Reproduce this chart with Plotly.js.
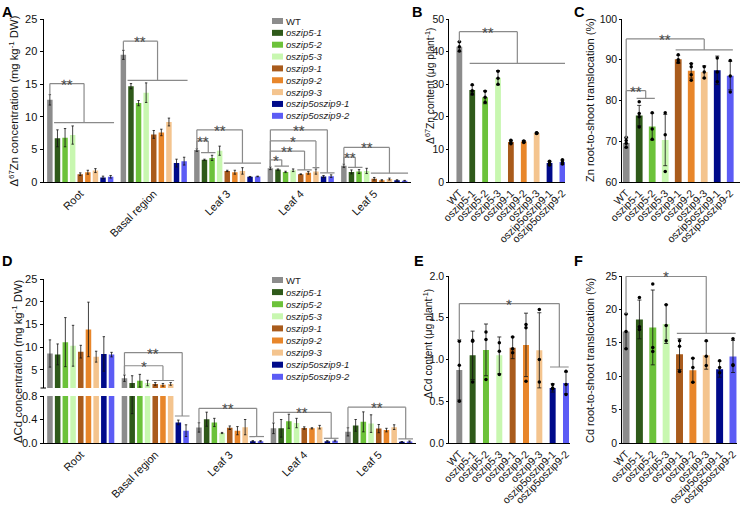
<!DOCTYPE html>
<html><head><meta charset="utf-8">
<script src="https://cdn.plot.ly/plotly-3.0.1.min.js"></script>
<style>html,body{margin:0;padding:0;background:#fff}#chart{width:744px;height:513px}</style>
</head><body><div id="chart"></div>
<script>
// ---------- data ----------
const genotypes = ['WT','oszip5-1','oszip5-2','oszip5-3','oszip9-1','oszip9-2','oszip9-3','oszip5oszip9-1','oszip5oszip9-2'];
const colors = ['#8c8c8c','#2f5a1a','#6cc23a','#c8f7b0','#a95b1c','#e8862a','#f4c48e','#000a8a','#5c5cf5'];
const tissues = ['Root','Basal region','Leaf 3','Leaf 4','Leaf 5'];

// A: Δ67Zn concentration (rows: genotype, cols: tissue)
const znConcMean = [
 [12.6, 19.5, 4.9, 2.1, 2.5],
 [6.7, 14.7, 3.4, 1.9, 1.55],
 [6.8, 12.1, 3.7, 1.55, 1.6],
 [7.2, 13.7, 4.8, 1.8, 1.7],
 [1.2, 7.3, 1.7, 1.2, 0.5],
 [1.5, 7.6, 1.5, 1.4, 0.25],
 [1.75, 9.2, 1.7, 1.6, 0.45],
 [0.7, 2.9, 0.8, 0.85, 0.25],
 [0.8, 3.2, 0.85, 0.9, 0.2]
];
const znConcErr = [
 [0.8, 0.7, 0.2, 0.2, 0.25],
 [1.3, 0.4, 0.1, 0.1, 0.3],
 [1.4, 0.4, 0.4, 0.1, 0.3],
 [1.4, 1.5, 0.7, 0.2, 0.4],
 [0.2, 0.6, 0.1, 0.05, 0.2],
 [0.3, 0.5, 0.3, 0.2, 0.1],
 [0.3, 0.6, 0.5, 0.4, 0.15],
 [0.2, 0.6, 0.05, 0.15, 0.1],
 [0.2, 0.6, 0.05, 0.2, 0.05]
];
// B: Δ67Zn content
const znContentMean = [41.5, 28.2, 26.0, 32.0, 12.3, 12.4, 15.0, 5.8, 6.1];
const znContentErr  = [1.5, 1.5, 2.0, 2.2, 0.5, 0.3, 0.2, 0.6, 0.6];
const znContentPts  = [[40.2,41.5,43.0],[27.0,28.0,29.8],[24.5,26.0,27.8],[30.0,31.8,34.0],[11.7,12.3,12.8],[12.1,12.4,12.6],[14.9,15.0,15.1],[5.2,5.8,6.4],[5.5,6.1,6.8]];
// C: Zn root-to-shoot translocation
const znTransMean = [69.6, 76.3, 73.6, 70.3, 90.1, 87.3, 87.0, 87.4, 86.1];
const znTransErr  = [1.2, 2.5, 3.3, 6.3, 1.0, 1.8, 1.5, 3.5, 3.5];
const znTransPts  = [[68.5,69.5,70.2,71.0],[73.5,76.0,76.8,79.7],[70.5,73.0,77.0],[62.6,71.6,77.0],[89.4,90.0,91.2],[85.0,86.3,88.3,89.0],[85.5,87.0,88.3],[84.6,87.0,90.4],[82.1,86.0,89.8]];
// D: ΔCd concentration
const cdConcMean = [
 [8.6, 3.15, 0.265, 0.25, 0.19],
 [8.4, 2.1, 0.405, 0.25, 0.3],
 [11.1, 2.6, 0.35, 0.37, 0.36],
 [10.3, 2.1, 0.17, 0.34, 0.33],
 [9.0, 1.9, 0.26, 0.255, 0.245],
 [13.9, 1.7, 0.21, 0.25, 0.22],
 [7.9, 1.9, 0.27, 0.27, 0.27],
 [8.5, 0.35, 0.03, 0.03, 0.02],
 [8.35, 0.21, 0.03, 0.04, 0.025]
];
const cdConcErr = [
 [3.0, 0.7, 0.08, 0.09, 0.07],
 [2.3, 1.6, 0.12, 0.15, 0.1],
 [5.4, 1.4, 0.07, 0.12, 0.17],
 [4.5, 0.6, 0.01, 0.08, 0.15],
 [1.4, 0.3, 0.03, 0.02, 0.07],
 [6.0, 0.3, 0.07, 0.01, 0.03],
 [1.2, 0.3, 0.13, 0.03, 0.04],
 [3.8, 0.04, 0.01, 0.01, 0.005],
 [0.5, 0.1, 0.01, 0.01, 0.01]
];
// E: ΔCd content
const cdContentMean = [0.875, 1.05, 1.115, 1.05, 1.14, 1.175, 1.11, 0.66, 0.72];
const cdContentErr  = [0.36, 0.29, 0.31, 0.22, 0.13, 0.38, 0.45, 0.05, 0.13];
const cdContentPts  = [[0.5,0.93,1.22],[0.73,1.22,1.23],[0.76,1.24,1.33],[0.82,1.1,1.2],[1.08,1.13,1.27],[0.74,1.38,1.42],[0.73,1.0,1.6],[0.65,0.66,0.7],[0.58,0.7,0.86]];
// F: Cd root-to-shoot translocation
const cdTransMean = [16.7, 18.5, 17.3, 17.8, 13.3, 10.9, 13.15, 11.05, 12.95];
const cdTransErr  = [2.6, 2.9, 5.6, 2.9, 2.3, 1.8, 2.1, 1.2, 2.4];
const cdTransPts  = [[14.1,16.7,19.3],[17.0,17.4,21.8],[13.7,14.3,23.8],[15.3,17.6,20.7],[10.7,14.5,15.3],[9.1,11.3,12.7],[11.6,13.0,15.3],[10.5,11.3,12.3],[11.6,11.7,15.6]];

// significance brackets (annotation specs): [tissue, yTop, yLow, fromIdx, toIdx, label]
const sigA = [
 [0, 15.1, 9.1, 1, 8, '**'], [1, 21.6, 15.6, 1, 8, '**'],
 [2, 8.0, 2.9, 4, 8, '**'], [2, 6.3, 4.5, 1, 2, '**'],
 [3, 8.0, 1.4, 7, 8, '**'], [3, 6.3, 2.2, 6, 6, '*'], [3, 4.75, 1.85, 4, 5, '**'], [3, 3.4, 2.45, 1, 2, '*'],
 [4, 5.3, 1.35, 4, 8, '**'], [4, 3.8, 2.25, 1, 2, '**']
];
// [tissue, yTop, topAxis, yLow, lowAxis, fromIdx, toIdx, label]
const sigD = [
 [1, 8.8, 'up', 0.46, 'lo', 7, 8, '**'], [1, 5.9, 'up', 2.65, 'up', 4, 6, '*'],
 [2, 0.59, 'lo', 0.11, 'lo', 7, 8, '**'], [3, 0.52, 'lo', 0.08, 'lo', 7, 8, '**'], [4, 0.61, 'lo', 0.07, 'lo', 7, 8, '**']
];
// [yTop, yLow, fromIdx, toIdx, label]
const sigB = [[46.1, 36.4, 1, 8, '**']];
const sigC = [[95.1, 92.4, 4, 8, '**'], [82.4, 80.5, 1, 2, '**']];
const sigE = [[1.67, 0.91, 7, 8, '*']];
const sigF = [[24.95, 16.4, 4, 8, '*']];

// ---------- layout helpers ----------
const W = 744, H = 513;
const px = v => v / W;
const py = v => 1 - v / H;
const FONT = 'Liberation Sans, Arial, sans-serif';
const bargap = 0.07;
const nG = genotypes.length;
const slot = (1 - bargap) / nG;
const barX = (cat, k) => cat + (k - (nG - 1) / 2) * slot;
const lineCol = '#8a8a8a';

const traces = [];
const shapes = [];
const annotations = [];

function errCfg(arr, w) { return {type:'data', array: arr, visible:true, color:'#111', thickness:0.8, width:w}; }

// A traces
genotypes.forEach((g, k) => {
  traces.push({type:'bar', name:g, x:tissues, y:znConcMean[k], xaxis:'x', yaxis:'y',
    marker:{color:colors[k]}, error_y:errCfg(znConcErr[k], 1.2), showlegend:false, hoverinfo:'skip'});
});
// D traces (lower and upper part of broken axis)
['y4','y5'].forEach(ya => {
  genotypes.forEach((g, k) => {
    traces.push({type:'bar', name:g, x:tissues, y:cdConcMean[k], xaxis:'x4', yaxis:ya,
      marker:{color:colors[k]}, error_y:errCfg(cdConcErr[k], 1.2), showlegend:false, hoverinfo:'skip'});
  });
});
// single-series panels
function single(mean, err, pts, xa, ya, w) {
  traces.push({type:'bar', x:genotypes, y:mean, xaxis:xa, yaxis:ya, width:w,
    marker:{color:colors}, error_y:errCfg(err, 2), showlegend:false, hoverinfo:'skip'});
  const xs = [], ys = [];
  pts.forEach((p, k) => p.forEach(v => { xs.push(genotypes[k]); ys.push(v); }));
  traces.push({type:'scatter', mode:'markers', x:xs, y:ys, xaxis:xa, yaxis:ya,
    marker:{color:'#000', size:3.5}, showlegend:false, hoverinfo:'skip'});
}
single(znContentMean, znContentErr, znContentPts, 'x2', 'y2', 0.45);
single(znTransMean, znTransErr, znTransPts, 'x3', 'y3', 0.52);
single(cdContentMean, cdContentErr, cdContentPts, 'x5', 'y6', 0.45);
single(cdTransMean, cdTransErr, cdTransPts, 'x6', 'y7', 0.52);

// ---------- brackets ----------
function seg(xref, yref, x0, y0, x1, y1) {
  shapes.push({type:'line', xref, yref, x0, y0, x1, y1, line:{color:lineCol, width:1.2}});
}
function star(xref, yref, x, y, text) {
  annotations.push({xref, yref, x, y, text, showarrow:false, xanchor:'center', yanchor:'bottom',
    height:9, valign:'top', yshift:-3, textangle:0.3, font:{size:15, color:'#444', family:FONT}});
}
// A
sigA.forEach(([cat, yTop, yLow, a, b, lab]) => {
  const xW = barX(cat, 0), xM = (barX(cat, a) + barX(cat, b)) / 2;
  const yS = znConcMean[0][cat] + znConcErr[0][cat];
  seg('x','y', xW, yS, xW, yTop); seg('x','y', xW, yTop, xM, yTop);
  seg('x','y', xM, yTop, xM, yLow); seg('x','y', barX(cat, a) - 0.45*slot, yLow, barX(cat, b) + 0.45*slot, yLow);
  star('x','y', (xW + xM) / 2, yTop, lab);
});
// D (broken axis -> paper coordinates)
const dAx = {lo:{d:[py(443), py(396)], r:[0, 0.8]}, up:{d:[py(388), py(279)], r:[1, 25]}};
const dPaper = (v, ax) => { const a = dAx[ax]; return a.d[0] + (v - a.r[0]) / (a.r[1] - a.r[0]) * (a.d[1] - a.d[0]); };
sigD.forEach(([cat, yTop, tAx, yLow, lAx, a, b, lab]) => {
  const xW = barX(cat, 0), xM = (barX(cat, a) + barX(cat, b)) / 2;
  const wt = cdConcMean[0][cat] + cdConcErr[0][cat];
  const yS = dPaper(wt, wt >= 1 ? 'up' : 'lo');
  const yT = dPaper(yTop, tAx), yL = dPaper(yLow, lAx);
  seg('x4','paper', xW, yS, xW, yT); seg('x4','paper', xW, yT, xM, yT);
  seg('x4','paper', xM, yT, xM, yL); seg('x4','paper', barX(cat, a) - 0.45*slot, yL, barX(cat, b) + 0.45*slot, yL);
  star('x4','paper', (xW + xM) / 2, yT, lab);
});
// axis-break tick on D
shapes.push({type:'line', xref:'paper', yref:'paper', x0:px(40.5), x1:px(46), y0:py(388), y1:py(388), line:{color:'#000', width:1}});
// B, C, E, F
function sigSingle(spec, mean, err, xa, ya) {
  spec.forEach(([yTop, yLow, a, b, lab]) => {
    const xM = (a + b) / 2, yS = mean[0] + err[0];
    seg(xa, ya, 0, yS, 0, yTop); seg(xa, ya, 0, yTop, xM, yTop);
    seg(xa, ya, xM, yTop, xM, yLow); seg(xa, ya, a - 0.2, yLow, b + 0.2, yLow);
    star(xa, ya, xM / 2, yTop, lab);
  });
}
sigSingle(sigB, znContentMean, znContentErr, 'x2', 'y2');
sigSingle(sigC, znTransMean, znTransErr, 'x3', 'y3');
sigSingle(sigE, cdContentMean, cdContentErr, 'x5', 'y6');
sigSingle(sigF, cdTransMean, cdTransErr, 'x6', 'y7');

// ---------- manual legends ----------
function legend(topPx, step) {
  genotypes.forEach((g, k) => {
    const yc = topPx + k * step;
    shapes.push({type:'rect', xref:'paper', yref:'paper', x0:px(272), x1:px(283), y0:py(yc + 3), y1:py(yc - 3),
      fillcolor:colors[k], line:{width:0}});
    annotations.push({xref:'paper', yref:'paper', x:px(284), y:py(yc), xanchor:'left', yanchor:'middle',
      text: k === 0 ? g : '<i>' + g + '</i>', showarrow:false, font:{size:9.5, color:'#222', family:FONT}});
  });
}
legend(21, 11.85);
legend(280, 12.1);

// ---------- titles & panel letters ----------
function ytitle(x, y, text, size) {
  annotations.push({xref:'paper', yref:'paper', x:px(x), y:py(y), text, textangle:-90, showarrow:false,
    xanchor:'center', yanchor:'middle', font:{size, color:'#111', family:FONT}});
}
ytitle(13.5, 101, 'Δ<sup>67</sup>Zn concentration (mg kg<sup>-1</sup> DW)', 11.3);
ytitle(429, 86, 'Δ<sup>67</sup>Zn content (μg plant<sup>-1</sup>)', 10.3);
ytitle(590, 100, 'Zn root-to-shoot translocation (%)', 11);
ytitle(17, 361, 'ΔCd concentration (mg kg<sup>-1</sup> DW)', 11.3);
ytitle(426.5, 344, 'ΔCd content (μg plant<sup>-1</sup>)', 10.3);
ytitle(590, 361, 'Cd root-to-shoot translocation (%)', 11);
[['A',0,2],['B',410,2],['C',572,2],['D',0,251],['E',412,251],['F',572,251]].forEach(([t,x,y]) => {
  annotations.push({xref:'paper', yref:'paper', x:px(x), y:py(y), xanchor:'left', yanchor:'top', text:'<b>'+t+'</b>',
    showarrow:false, font:{size:14.5, color:'#000', family:FONT}});
});

// ---------- axes ----------
const axBase = {showline:true, linecolor:'#000', linewidth:1, showgrid:false, zeroline:false, fixedrange:true,
  tickfont:{size:11, color:'#111', family:FONT}};
const yBase = Object.assign({}, axBase, {ticks:'outside', ticklen:3, tickwidth:1, tickcolor:'#000'});
const xBase = Object.assign({}, axBase, {ticks:'', tickangle:-45, type:'category'});
const xGeno = Object.assign({}, xBase, {tickmode:'array', tickvals:genotypes, ticktext:genotypes, tickfont:{size:10.5, color:'#111', family:FONT}});
const ySmall = Object.assign({}, yBase, {ticklen:2, tickfont:{size:10.5, color:'#111', family:FONT}});
const topRow = [py(182), py(19)];
const botRow = [py(443), py(276)];

const layout = {
  width:W, height:H, margin:{l:0, r:0, t:0, b:0}, paper_bgcolor:'#fff', plot_bgcolor:'rgba(0,0,0,0)',
  font:{family:FONT}, barmode:'group', bargap:bargap, bargroupgap:0.28, showlegend:false,
  xaxis: Object.assign({}, xBase, {domain:[px(43.5), px(411)], anchor:'y', range:[-0.5, 4.5], categoryarray:tissues, categoryorder:'array'}),
  yaxis: Object.assign({}, yBase, {domain:topRow, anchor:'x', range:[0, 25], dtick:5}),
  xaxis2: Object.assign({}, xGeno, {domain:[px(449.3), px(565)], anchor:'y2', range:[-0.78, 8.2]}),
  yaxis2: Object.assign({}, ySmall, {domain:topRow, anchor:'x2', range:[0, 50], dtick:10}),
  xaxis3: Object.assign({}, xGeno, {domain:[px(622.3), px(740)], anchor:'y3', range:[-0.3, 8.75]}),
  yaxis3: Object.assign({}, ySmall, {domain:topRow, anchor:'x3', range:[60, 100], dtick:10}),
  xaxis4: Object.assign({}, xBase, {domain:[px(43.5), px(416)], anchor:'y4', range:[-0.5, 4.5], categoryarray:tissues, categoryorder:'array'}),
  yaxis4: Object.assign({}, yBase, {domain:[py(443), py(396)], anchor:'x4', range:[0, 0.8], tickvals:[0, 0.4, 0.8], ticktext:['0.0','0.4','0.8']}),
  yaxis5: Object.assign({}, yBase, {domain:[py(388), py(279)], anchor:'x4', range:[1, 25], tickvals:[5, 10, 15, 20, 25]}),
  xaxis5: Object.assign({}, xGeno, {domain:[px(449.3), px(570)], anchor:'y6', range:[-0.75, 8.3]}),
  yaxis6: Object.assign({}, ySmall, {domain:botRow, anchor:'x5', range:[0, 2], dtick:0.5, tickformat:'.1f'}),
  xaxis6: Object.assign({}, xGeno, {domain:[px(622.3), px(737)], anchor:'y7', range:[-0.28, 8.3]}),
  yaxis7: Object.assign({}, ySmall, {domain:botRow, anchor:'x6', range:[0, 25], dtick:5}),
  shapes, annotations
};

Plotly.newPlot('chart', traces, layout, {displayModeBar:false, staticPlot:true});
</script>
</body></html>
